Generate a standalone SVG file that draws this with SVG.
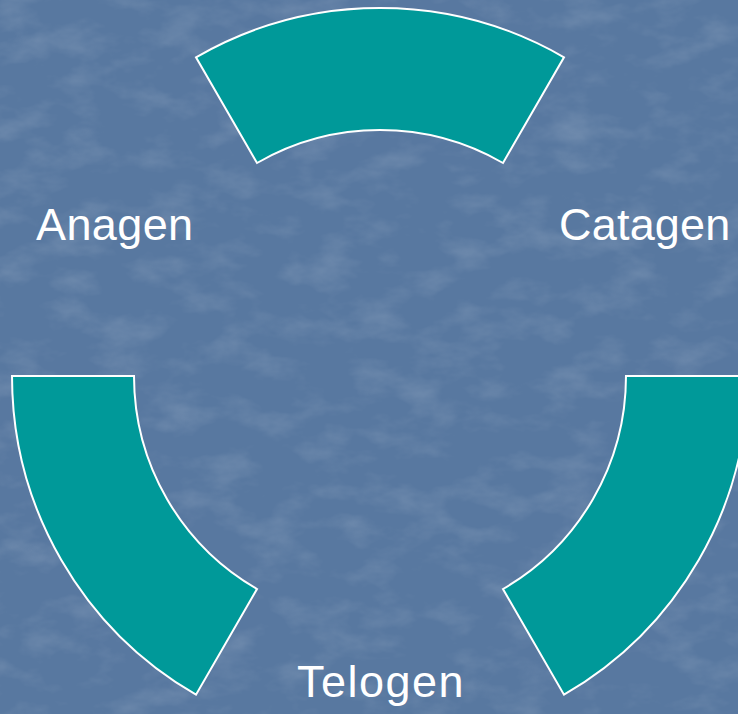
<svg xmlns="http://www.w3.org/2000/svg" width="738" height="714" viewBox="0 0 738 714">
  <defs>
    <filter id="tex" x="0" y="0" width="100%" height="100%">
      <feTurbulence type="fractalNoise" baseFrequency="0.02 0.035" numOctaves="4" seed="11" result="n"/>
      <feColorMatrix in="n" type="matrix" values="0 0 0 0 1  0 0 0 0 1  0 0 0 0 1  1.1 0 0 0 -0.5" result="w"/>
      <feComposite in="w" in2="SourceGraphic" operator="in"/>
    </filter>
    <style>
      .seg { fill: #009999; stroke: #ffffff; stroke-width: 2; stroke-linejoin: miter; }
      .lbl { fill: #ffffff; font-family: "Liberation Sans", Arial, sans-serif; font-size: 45px; }
    </style>
  </defs>
  <rect x="0" y="0" width="738" height="714" fill="#5878a0"/>
  <rect x="0" y="0" width="738" height="714" fill="#7090b6" filter="url(#tex)" opacity="0.25"/>

  <g id="arc-top">
    <path class="seg" d="M196,57.3 A368,368 0 0 1 564,57.3 L503,163 A246,246 0 0 0 257,163 Z"/>
  </g>
  <g id="arc-left">
    <path class="seg" d="M12,376 L134,376 A246,246 0 0 0 257,589 L196,694.7 A368,368 0 0 1 12,376 Z"/>
  </g>
  <g id="arc-right">
    <path class="seg" d="M748,376 L626,376 A246,246 0 0 1 503,589 L564,694.7 A368,368 0 0 0 748,376 Z"/>
  </g>

  <g id="label-anagen"><text class="lbl" x="36" y="240" letter-spacing="0.4">Anagen</text></g>
  <g id="label-catagen"><text class="lbl" x="559" y="240" letter-spacing="0.2">Catagen</text></g>
  <g id="label-telogen"><text class="lbl" x="297" y="697" letter-spacing="1.5">Telogen</text></g>
  <g id="connectors"></g>
</svg>
